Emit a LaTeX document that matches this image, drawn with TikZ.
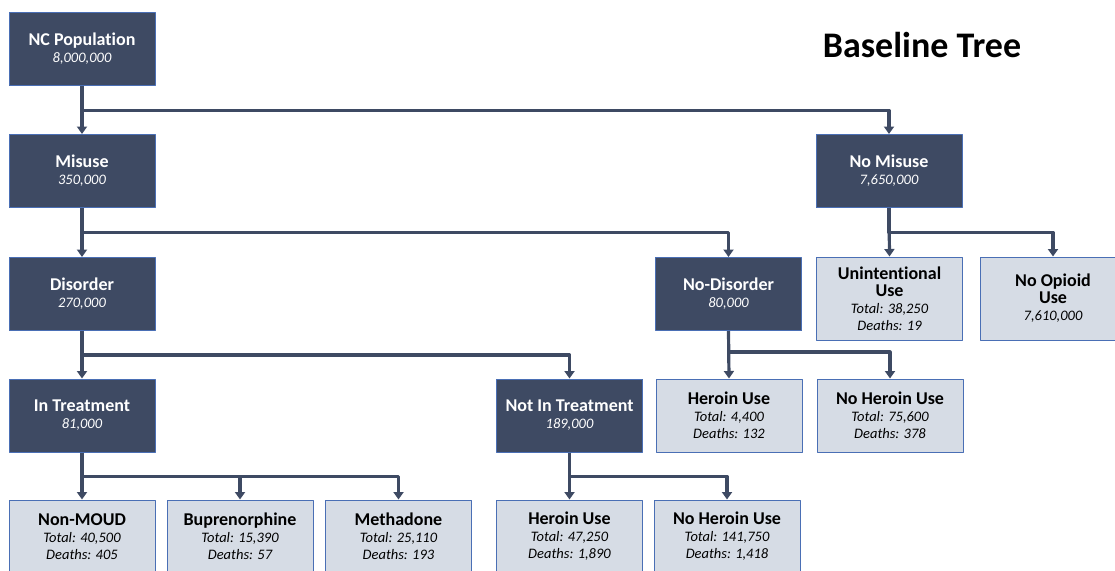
\documentclass[tikz,border=0pt]{standalone}
\usepackage{fontspec}
\setmainfont{Carlito}[Ligatures=NoCommon]
\usetikzlibrary{arrows.meta}
\definecolor{slate}{HTML}{3E4A63}
\definecolor{paleblue}{HTML}{D6DCE5}
\definecolor{rimblue}{HTML}{4A6FB5}
\newcommand{\hd}[1]{{\upshape\bfseries\fontsize{18}{16}\selectfont #1}}
\begin{document}
\begin{tikzpicture}[x=1pt,y=1pt, line join=round,
    darkbox/.style={draw=rimblue, line width=1pt, fill=slate, text=white,
      minimum width=146pt, minimum height=73pt, inner sep=0pt, align=center,
      font=\fontsize{14.5}{17}\selectfont\itshape},
    lightbox/.style={darkbox, fill=paleblue, text=black},
    conn/.style={draw=slate, line width=3.2pt, -{Triangle[width=10pt,length=7.5pt]}}]
  \useasboundingbox (0,0) rectangle (1115,-570);
  % title
  \node (title) at (922,-45) {\bfseries\fontsize{36}{36}\selectfont Baseline Tree};
  % dark nodes
  \node[darkbox] (pop) at (82,-49) {\hd{NC Population}\\8,000,000};
  \node[darkbox] (mis) at (82,-171) {\hd{Misuse}\\350,000};
  \node[darkbox] (nomis) at (889,-171) {\hd{No Misuse}\\7,650,000};
  \node[darkbox] (dis) at (82,-294) {\hd{Disorder}\\270,000};
  \node[darkbox] (nodis) at (728.5,-294) {\hd{No-Disorder}\\80,000};
  \node[darkbox] (intr) at (82,-415.5) {\hd{In Treatment}\\81,000};
  \node[darkbox] (notr) at (569.5,-415.5) {\hd{Not In Treatment}\\189,000};
  % light nodes
  \node[lightbox, minimum height=83pt] (unint) at (889.5,-298.5)
    {\hd{Unintentional}\\\hd{Use}\\Total: 38,250\\Deaths: 19};
  \node[lightbox, minimum height=83pt] (noop) at (1053,-298.5)
    {\hd{No Opioid}\\\hd{Use}\\7,610,000};
  \node[lightbox] (her1) at (729,-415.5) {\hd{Heroin Use}\\Total: 4,400\\Deaths: 132};
  \node[lightbox] (noher1) at (890,-415.5) {\hd{No Heroin Use}\\Total: 75,600\\Deaths: 378};
  \node[lightbox] (nonmoud) at (82,-536.5) {\hd{Non-MOUD}\\Total: 40,500\\Deaths: 405};
  \node[lightbox] (bup) at (240,-536.5) {\hd{Buprenorphine}\\Total: 15,390\\Deaths: 57};
  \node[lightbox] (meth) at (398.5,-536.5) {\hd{Methadone}\\Total: 25,110\\Deaths: 193};
  \node[lightbox] (her2) at (569.5,-536.5) {\hd{Heroin Use}\\Total: 47,250\\Deaths: 1,890};
  \node[lightbox] (noher2) at (727,-536.5) {\hd{No Heroin Use}\\Total: 141,750\\Deaths: 1,418};
  % connectors
  \draw[conn] (pop.south) -- (mis.north);
  \draw[conn] (pop.south) -- ++(0,-24.5) -| (nomis.north);
  \draw[conn] (mis.south) -- (dis.north);
  \draw[conn] (mis.south) -- ++(0,-24.5) -| (nodis.north);
  \draw[conn] (nomis.south) -- (unint.north);
  \draw[conn] (nomis.south) -- ++(0,-24.5) -| (noop.north);
  \draw[conn] (dis.south) -- (intr.north);
  \draw[conn] (dis.south) -- ++(0,-24) -| (notr.north);
  \draw[conn] (nodis.south) -- (her1.north);
  \draw[conn] (nodis.south) -- ++(0,-21) -| (noher1.north);
  \draw[conn] (intr.south) -- (nonmoud.north);
  \foreach \kid in {bup,meth}
    \draw[conn] (intr.south) -- ++(0,-24) -| (\kid.north);
  \draw[conn] (notr.south) -- (her2.north);
  \draw[conn] (notr.south) -- ++(0,-24) -| (noher2.north);
\end{tikzpicture}
\end{document}
